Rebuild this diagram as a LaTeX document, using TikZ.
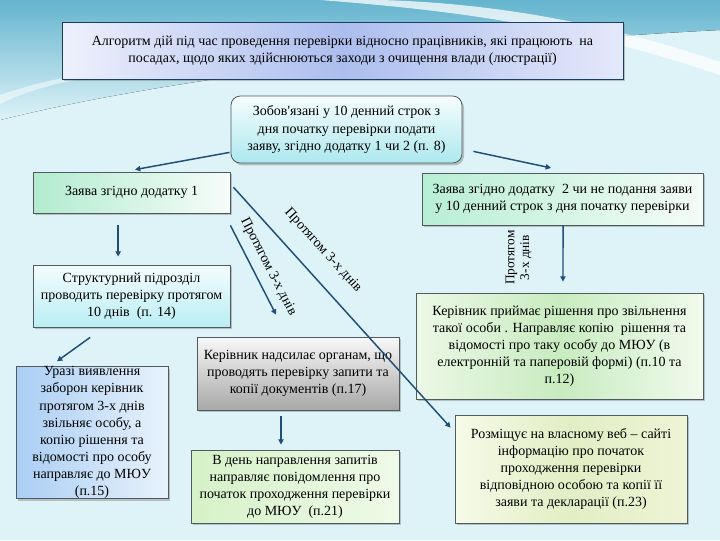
\documentclass[tikz,border=0pt]{standalone}
\usepackage{fontspec}
\setmainfont{Liberation Serif}
\usepackage{tikz}
\usetikzlibrary{arrows.meta,shadows}

\definecolor{bgcol}{RGB}{222,243,248}
\definecolor{topcol}{RGB}{100,180,206}
\definecolor{arrcol}{RGB}{31,78,121}
\definecolor{edgecol}{RGB}{80,90,95}

\begin{document}
\begin{tikzpicture}[x=0.75pt, y=-0.75pt,
  font=\fontsize{10.5}{12.8}\selectfont,
  box/.style={rectangle, draw=edgecol, line width=0.6pt, align=center, inner sep=2pt,
    drop shadow={shadow xshift=1.5pt, shadow yshift=-1.8pt, opacity=0.45}},
  arr/.style={draw=arrcol, line width=1.1pt, -{Triangle[length=4pt,width=4pt]}},
  lbl/.style={sloped, inner sep=1pt}]

  % background
  \fill[bgcol] (0,0) rectangle (720,540);
  \useasboundingbox (0,0) rectangle (720,540);
  \fill[top color=topcol, bottom color=bgcol] (0,0) -- (720,0) -- (720,30)
    .. controls (520,40) and (200,70) .. (0,120) -- cycle;
  \fill[white, opacity=0.75] (320,0) .. controls (420,8) and (560,20) .. (720,75)
    -- (720,62) .. controls (580,14) and (460,2) .. (380,0) -- cycle;
  \fill[white, opacity=0.5] (0,95) .. controls (30,85) and (50,80) .. (75,76)
    -- (75,80) .. controls (45,86) and (20,94) .. (0,104) -- cycle;

  % boxes
  \node[box, draw=arrcol!80!black, left color={rgb,255:red,238;green,240;blue,252},
    right color={rgb,255:red,228;green,232;blue,250}, middle color={rgb,255:red,172;green,190;blue,238},
    minimum width=420.75pt, minimum height=42.75pt] (title) at (342.5,50.5)
    {Алгоритм дій під час проведення перевірки відносно працівників, які працюють \ на\\
     посадах, щодо яких здійснюються заходи з очищення влади (люстрації)};
  \node[box, rounded corners=7pt, top color={rgb,255:red,246;green,253;blue,254},
    bottom color={rgb,255:red,172;green,232;blue,238},
    minimum width=173.25pt, minimum height=50.25pt] (zobov) at (346.5,129.5)
    {Зобов\textquotesingle язані у 10 денний строк з\\дня початку перевірки подати\\заяву, згідно додатку 1 чи 2 (п. 8)};
  \node[box, left color={rgb,255:red,178;green,236;blue,206}, right color={rgb,255:red,246;green,252;blue,250},
    minimum width=147.75pt, minimum height=30.75pt] (zayava1) at (131.5,192.5)
    {Заява згідно додатку 1};
  \node[box, left color={rgb,255:red,184;green,238;blue,212}, right color={rgb,255:red,244;green,252;blue,248},
    minimum width=210.75pt, minimum height=39pt] (zayava2) at (562.5,199)
    {Заява згідно додатку \ 2 чи не подання заяви\\у 10 денний строк з дня початку перевірки};
  \node[box, top color={rgb,255:red,244;green,252;blue,254}, bottom color={rgb,255:red,186;green,238;blue,244},
    minimum width=147.75pt, minimum height=46.5pt] (strukt) at (131.5,296)
    {Структурний підрозділ\\проводить перевірку протягом\\10 днів \ (п. 14)};
  \node[box, left color={rgb,255:red,170;green,206;blue,244}, right color={rgb,255:red,232;green,242;blue,252},
    minimum width=114pt, minimum height=93.75pt, inner sep=0pt] (urazi) at (92,432.5)
    {Уразі виявлення\\заборон керівник\\протягом 3-х днів\\звільняє особу, а\\копію рішення та\\відомості про особу\\направляє до МЮУ\\(п.15)};
  \node[box, top color={rgb,255:red,248;green,248;blue,248}, bottom color={rgb,255:red,168;green,168;blue,168},
    minimum width=151.5pt, minimum height=54.75pt] (kerivn) at (298,373.5)
    {Керівник надсилає органам, що\\проводять перевірку запити та\\копії документів (п.17)};
  \node[box, left color={rgb,255:red,214;green,242;blue,200}, right color={rgb,255:red,238;green,250;blue,232},
    minimum width=156pt, minimum height=54.75pt] (vden) at (295,486.5)
    {В день направлення запитів\\направляє повідомлення про\\початок проходження перевірки\\до МЮУ \ (п.21)};
  \node[box, left color={rgb,255:red,236;green,248;blue,230}, right color={rgb,255:red,240;green,250;blue,236},
    middle color={rgb,255:red,200;green,236;blue,192},
    minimum width=215.25pt, minimum height=79.5pt] (kpryim) at (559.5,346)
    {Керівник приймає рішення про звільнення\\такої особи . Направляє копію \ рішення та\\відомості про таку особу до МЮУ (в\\електронній та паперовій формі) (п.10 та\\п.12)};
  \node[box, left color={rgb,255:red,246;green,250;blue,232}, right color={rgb,255:red,238;green,244;blue,214},
    middle color={rgb,255:red,226;green,238;blue,196},
    minimum width=174pt, minimum height=81pt] (rozm) at (571,469)
    {Розміщує на власному веб – сайті\\інформацію про початок\\проходження перевірки\\відповідною особою та копії її\\заяви та декларації (п.23)};

  % connectors
  \draw[arr] ([xshift=-0.75pt, yshift=8.25pt]zobov.south west) -- ([xshift=2.6pt, yshift=1.5pt]zayava1.north);
  \draw[arr] ([xshift=8.25pt, yshift=9pt]zobov.south east) -- ([xshift=-8.6pt, yshift=3.5pt]zayava2.north);
  \draw[arr] ([xshift=-10pt, yshift=-9pt]zayava1.south) -- ([xshift=-10pt, yshift=6pt]strukt.north);
  \draw[arr] ([yshift=-9pt]zayava1.south east) -- ([xshift=-16.5pt, yshift=16.5pt]kerivn.north)
    node[lbl, above=5pt, pos=0.54] {Протягом 3-х днів};
  \draw[arr] ([xshift=2.25pt, yshift=4pt]zayava1.east) -- ([xshift=-3pt, yshift=-9.75pt]rozm.north west)
    node[lbl, above=12pt, pos=0.33] {Протягом 3-х днів};
  \draw[arr] ([xshift=-31pt, yshift=-7.5pt]strukt.south) -- ([xshift=-26.25pt, yshift=3.75pt]urazi.north);
  \draw[arr] ([xshift=-12.75pt, yshift=-4.5pt]kerivn.south) -- ([xshift=-10.5pt, yshift=3.75pt]vden.north);
  \draw[arr] ([xshift=0.4pt]zayava2.south) -- ([xshift=2.6pt, yshift=8.25pt]kpryim.north)
    node[midway, xshift=-22pt, yshift=-3pt, rotate=90, anchor=south, align=center, inner sep=1pt,
      font=\fontsize{10}{11}\selectfont] {Протягом\\3-х днів};
\end{tikzpicture}
\end{document}
